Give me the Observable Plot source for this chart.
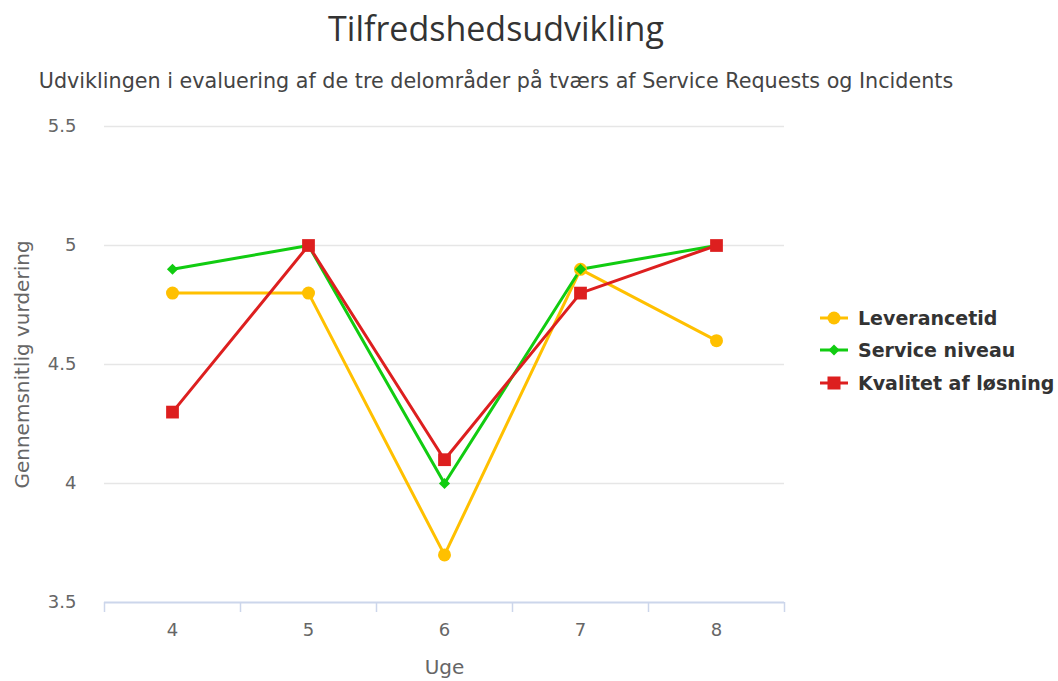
<!DOCTYPE html>
<html>
<head>
<meta charset="utf-8">
<script src="https://cdn.jsdelivr.net/npm/d3@7"></script>
<script src="https://cdn.jsdelivr.net/npm/@observablehq/plot@0.6"></script>
<style>
  html, body { margin: 0; padding: 0; background: #fff; }
  #wrap { position: relative; width: 1058px; height: 681px; overflow: hidden; }
  #title { position: absolute; left: 0; width: 992px; top: 5px; text-align: center;
    font-family: "Open Sans", sans-serif; font-size: 34px; color: #333; }
  #subtitle { position: absolute; left: 0; width: 992px; top: 69px; text-align: center;
    font-family: "DejaVu Sans", sans-serif; font-size: 20.7px; color: #444; }
  #chart { position: absolute; left: 0; top: 110px; }
  .lg { position: absolute; left: 820px; height: 24px; display: flex; align-items: center;
    font-family: "DejaVu Sans", sans-serif; font-weight: bold; font-size: 19px; color: #333; }
  .lg svg { margin-right: 10px; }
</style>
</head>
<body>
<div id="wrap">
  <div id="title">Tilfredshedsudvikling</div>
  <div id="subtitle">Udviklingen i evaluering af de tre delområder på tværs af Service Requests og Incidents</div>
  <div id="chart"></div>
  <div id="legend"></div>
</div>
<script>
const weeks = [4, 5, 6, 7, 8];
const seriesNames = ["Leverancetid", "Service niveau", "Kvalitet af løsning"];
const leverancetid = [4.8, 4.8, 3.7, 4.9, 4.6];
const serviceNiveau = [4.9, 5.0, 4.0, 4.9, 5.0];
const kvalitetAfLosning = [4.3, 5.0, 4.1, 4.8, 5.0];
const yTicks = [3.5, 4, 4.5, 5, 5.5];
const seriesColors = ["#FFC000", "#11CC11", "#DD1F1F"];
const seriesSymbols = ["circle", "diamond2", "square"];
const seriesRadius = [6.5, 5, 7.2];

const valuesBySeries = [leverancetid, serviceNiveau, kvalitetAfLosning];
const data = [];
seriesNames.forEach((s, i) => weeks.forEach((w, j) => data.push({series: s, week: w, value: valuesBySeries[i][j]})));
const bounds = [weeks[0] - 0.5, ...weeks.map(w => w + 0.5)];

const plot = Plot.plot({
  width: 1058,
  height: 571,
  marginTop: 16,
  marginBottom: 79,
  marginLeft: 104,
  marginRight: 274,
  style: {fontFamily: "DejaVu Sans, sans-serif", background: "#fff", overflow: "visible"},
  x: {type: "linear", domain: [bounds[0], bounds[bounds.length - 1]]},
  y: {domain: [yTicks[0], yTicks[yTicks.length - 1]]},
  color: {domain: seriesNames, range: seriesColors},
  symbol: {domain: seriesNames, range: seriesSymbols},
  marks: [
    Plot.ruleY(yTicks.slice(1), {stroke: "#e6e6e6", strokeWidth: 1.5}),
    Plot.axisY({ticks: yTicks, tickSize: 0, tickPadding: 28, fontSize: 18, color: "#666", label: null, tickFormat: d => String(d)}),
    Plot.ruleY([yTicks[0]], {stroke: "#ccd6eb", strokeWidth: 2}),
    Plot.axisX({ticks: bounds, tickSize: 10, stroke: "#ccd6eb", strokeWidth: 1.5, tickFormat: () => "", label: null}),
    Plot.axisX({ticks: weeks, tickSize: 0, tickPadding: 21, fontSize: 18, color: "#666", label: null, tickFormat: d => String(d)}),
    Plot.text(["Gennemsnitlig vurdering"], {frameAnchor: "left", textAnchor: "middle", lineAnchor: "middle", rotate: -90, dx: -82, fontSize: 20, fill: "#666"}),
    Plot.text(["Uge"], {frameAnchor: "bottom", textAnchor: "middle", lineAnchor: "middle", dy: 65, fontSize: 20, fill: "#666"}),
    Plot.line(data, {x: "week", y: "value", z: "series", stroke: "series", strokeWidth: 3}),
    ...seriesNames.map((s, i) => Plot.dot(data.filter(d => d.series === s), {x: "week", y: "value", fill: "series", symbol: "series", r: seriesRadius[i], stroke: "none"}))
  ]
});
document.getElementById("chart").appendChild(plot);

// legend
const legendCenters = [318, 350, 383];
const legend = document.getElementById("legend");
seriesNames.forEach((s, i) => {
  const row = document.createElement("div");
  row.className = "lg";
  row.style.top = (legendCenters[i] - 12) + "px";
  const sym = seriesSymbols[i];
  let marker;
  if (sym === "circle") marker = `<circle cx="14" cy="8" r="6.5" fill="${seriesColors[i]}"/>`;
  else if (sym === "diamond2") marker = `<path d="M14,2.5L19.5,8L14,13.5L8.5,8Z" fill="${seriesColors[i]}"/>`;
  else marker = `<rect x="7.5" y="1.5" width="13" height="13" fill="${seriesColors[i]}"/>`;
  row.innerHTML = `<svg width="28" height="16"><line x1="0" y1="8" x2="28" y2="8" stroke="${seriesColors[i]}" stroke-width="3"/>${marker}</svg><span>${s}</span>`;
  legend.appendChild(row);
});
</script>
</body>
</html>
